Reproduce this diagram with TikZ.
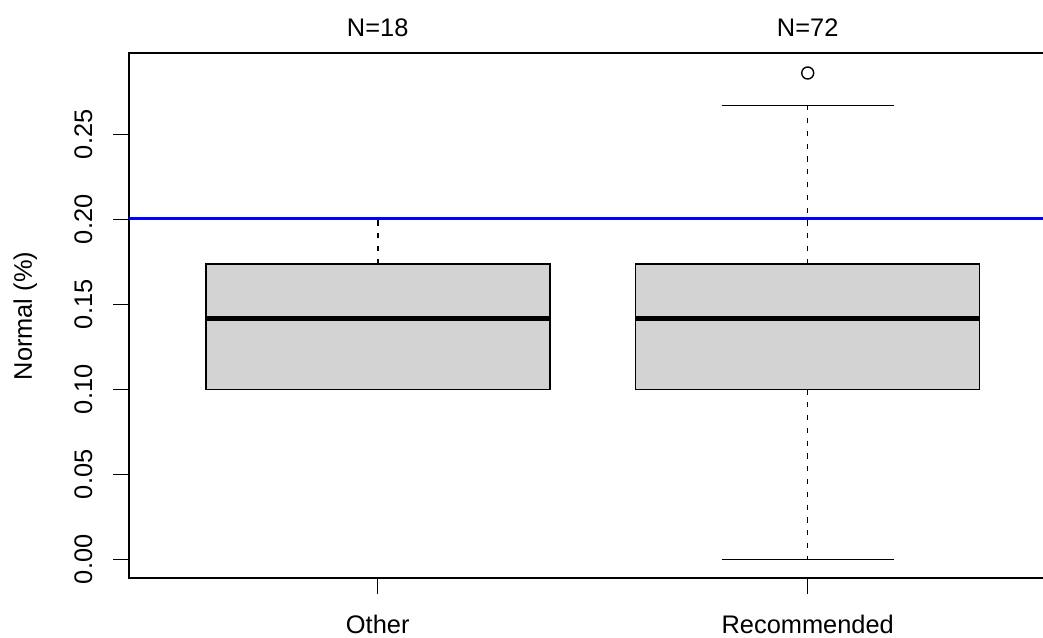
\documentclass[tikz,border=0pt]{standalone}
\usepackage{fontspec}
\setmainfont{Liberation Sans}
\begin{document}
\begin{tikzpicture}[x=0.5pt,y=-0.5pt,
  every node/.style={inner sep=0pt,outer sep=0pt,font=\fontsize{12.7}{15}\selectfont},
  frameline/.style={line width=0.85pt,black},
  boxline/.style={line width=0.7pt,black,fill={rgb,255:red,211;green,211;blue,211}},
  whisk/.style={line width=0.7pt,black,dash pattern=on 2.6pt off 3.8pt},
  staple/.style={line width=0.7pt,black},
  medline/.style={line width=2.3pt,black},
  refline/.style={line width=1.65pt,blue},
  tickline/.style={line width=0.7pt,black}]
\useasboundingbox (0,0) rectangle (1043,637);
\clip (0,0) rectangle (1043,637);
% box: Other
\draw[whisk] (378,264) -- (378,219);
\draw[staple] (292,219) -- (464,219);
\draw[boxline] (206,264) rectangle (550,389.3);
\draw[staple] (292,389.3) -- (464,389.3);
\draw[medline] (206,318.3) -- (550,318.3);
% box: Recommended
\draw[whisk] (807.7,264) -- (807.7,105.3);
\draw[whisk] (807.7,389.3) -- (807.7,559.3);
\draw[staple] (721.7,105.3) -- (893.7,105.3);
\draw[staple] (721.7,559.3) -- (893.7,559.3);
\draw[boxline] (635.7,264) rectangle (979.7,389.3);
\draw[medline] (635.7,318.3) -- (979.7,318.3);
\draw[line width=0.7pt] (807.7,73) circle[radius=6];
% frame
\draw[frameline] (1060,53.3) -- (128.7,53.3) -- (128.7,578.3) -- (1060,578.3);
% reference line
\draw[refline] (128.7,218.5) -- (1060,218.5);
% y axis ticks and labels
\foreach \v/\lab in {0/0.00,1/0.05,2/0.10,3/0.15,4/0.20,5/0.25}{
  \pgfmathsetmacro{\yy}{559.3-85*\v}
  \draw[tickline] (113,\yy) -- (128.7,\yy);
  \node[rotate=90,anchor=base] (yl\v) at (92,\yy) {\lab};
}
\node[rotate=90,anchor=base] (ylab) at (32,316) {Normal (\%)};
% x axis ticks and labels
\draw[tickline] (377.7,578.3) -- (377.7,594);
\draw[tickline] (807.7,578.3) -- (807.7,594);
\node[anchor=base] (xl1) at (377.7,633) {Other};
\node[anchor=base] (xl2) at (807.7,633) {Recommended};
% counts
\node[anchor=base] (n1) at (377.7,36) {N=18};
\node[anchor=base] (n2) at (807.7,36) {N=72};
\end{tikzpicture}
\end{document}
